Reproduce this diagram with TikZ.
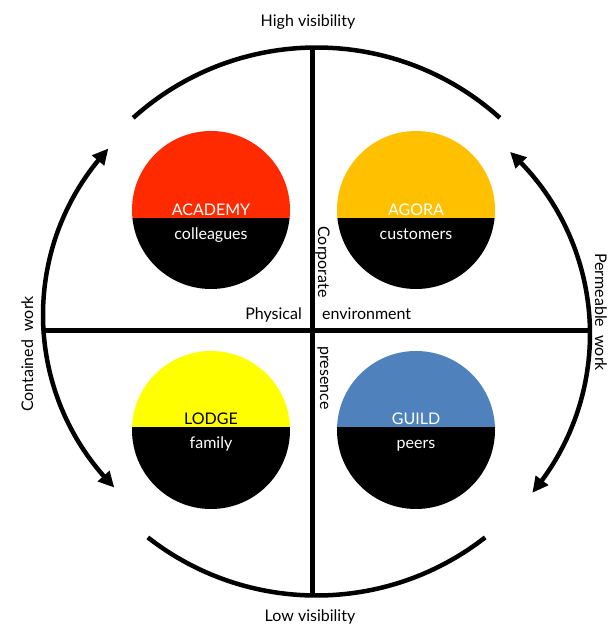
\documentclass[tikz,border=0pt]{standalone}
\usepackage{fontspec}
\setmainfont{Lato}
\usetikzlibrary{arrows.meta,bending}
\definecolor{acared}{HTML}{FF2A00}
\definecolor{agoraamber}{HTML}{FFC000}
\definecolor{lodgeyellow}{HTML}{FFFF00}
\definecolor{guildblue}{HTML}{4F81BD}
\begin{document}
\begin{tikzpicture}[x=1pt,y=1pt,
  ring/.style={line width=4.5pt},
  axisline/.style={line width=5pt},
  biarrow/.style={ring,{Triangle[length=16pt,width=15pt,bend]}-{Triangle[length=16pt,width=15pt,bend]}},
  lbl/.style={font=\fontsize{16}{19}\selectfont, inner sep=0pt},
  clbl/.style={lbl, text=white, anchor=base}
]
\useasboundingbox (0,0) rectangle (609,625);
\fill[white] (0,0) rectangle (609,625);

% ring centre
\coordinate (O) at (316.5,303.5);
\def\R{274}
\coordinate (OL) at (287,310);
\coordinate (OR) at (343,291);

% arcs
\draw[ring] ([shift={(48:\R)}]O) arc[start angle=48, end angle=132, radius=\R];
\draw[biarrow] ([shift={(137:244)}]OL) arc[start angle=137, end angle=225, radius=244];
\draw[ring] ([shift={(232:\R)}]O) arc[start angle=232, end angle=308, radius=\R];
\draw[biarrow] ([shift={(-40:247)}]OR) arc[start angle=-40, end angle=47.5, radius=247];

% circles
\begin{scope}
\clip (211,415) circle[radius=79];
\fill[acared] (130,407) rectangle (292,496);
\fill[black] (130,407) rectangle (292,334);
\end{scope}
\begin{scope}
\clip (416,415) circle[radius=79];
\fill[agoraamber] (335,407) rectangle (497,496);
\fill[black] (335,407) rectangle (497,334);
\end{scope}
\begin{scope}
\clip (211,195) circle[radius=79];
\fill[lodgeyellow] (130,198) rectangle (292,276);
\fill[black] (130,198) rectangle (292,114);
\end{scope}
\begin{scope}
\clip (416,195) circle[radius=79];
\fill[guildblue] (335,198) rectangle (497,276);
\fill[black] (335,198) rectangle (497,114);
\end{scope}

% axes
\coordinate (vt) at (312,579);
\coordinate (vb) at (312,28);
\coordinate (hl) at (43,294);
\coordinate (hr) at (590,294);
\draw[axisline] (vt) -- (vb);
\draw[axisline] (hl) -- (hr);

% circle labels
\node[clbl] (academy) at (211,409) {ACADEMY};
\node[clbl] (colleagues) at (211,385) {colleagues};
\node[clbl] (agora) at (416,409) {AGORA};
\node[clbl] (customers) at (416,385) {customers};
\node[clbl, text=black] (lodge) at (211,200) {LODGE};
\node[clbl] (family) at (211,176) {family};
\node[clbl] (guild) at (416,200) {GUILD};
\node[clbl] (peers) at (416,176) {peers};

% axis labels
\node[lbl, anchor=base] (high) at (308,598) {High visibility};
\node[lbl, anchor=base] (low) at (310,3) {Low visibility};
\node[lbl, anchor=base, rotate=90] (contained) at (33,271) {Contained\ \ work};
\node[lbl, anchor=base, rotate=-90] (permeable) at (595,313) {Permeable\ \ work};
\node[lbl, anchor=base east] (physical) at (302,305) {Physical};
\node[lbl, anchor=base west] (environment) at (322,305) {environment};
\node[lbl, anchor=base, rotate=-90] (corporate) at (318,363) {Corporate};
\node[lbl, anchor=base, rotate=-90] (presence) at (320,247) {presence};
\end{tikzpicture}
\end{document}
